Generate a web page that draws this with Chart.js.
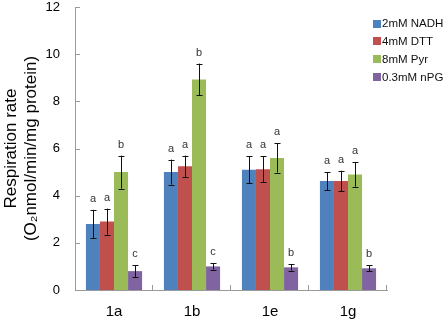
<!DOCTYPE html>
<html>
<head>
<meta charset="utf-8">
<script src="https://cdn.jsdelivr.net/npm/chart.js@4.4.1/dist/chart.umd.min.js"></script>
<style>
  body { margin: 0; background: #fff; }
  #wrap { width: 448px; height: 322px; }
</style>
</head>
<body>
<div id="wrap"><canvas id="chart" width="448" height="322"></canvas></div>
<script>
// Data
const categories = ["1a", "1b", "1e", "1g"];
const seriesNames = ["2mM NADH", "4mM DTT", "8mM Pyr", "0.3mM nPG"];

const nadh = [2.8, 5.0, 5.1, 4.62];
const dtt = [2.9, 5.25, 5.12, 4.62];
const pyr = [5.0, 8.93, 5.6, 4.9];
const npg = [0.8, 1.0, 0.96, 0.92];

const nadhErr = [0.6, 0.53, 0.57, 0.38];
const dttErr = [0.55, 0.45, 0.55, 0.44];
const pyrErr = [0.7, 0.67, 0.62, 0.52];
const npgErr = [0.25, 0.14, 0.14, 0.12];

const nadhSig = ["a", "a", "a", "a"];
const dttSig = ["a", "a", "a", "a"];
const pyrSig = ["b", "b", "a", "a"];
const npgSig = ["c", "c", "b", "b"];

const colors = ["#4F81BD", "#C0504D", "#9BBB59", "#8064A2"];
const axisColor = "#9a9a9a";

Chart.defaults.font.family = "'Liberation Sans', Arial, sans-serif";
Chart.defaults.color = "#000";

function makeSet(i, values, errs, sig) {
    return {
        label: seriesNames[i],
        data: values,
        errors: errs,
        sig: sig,
        backgroundColor: colors[i],
        borderWidth: 0,
        categoryPercentage: 0.72,
        barPercentage: 1.0
    };
}

// Error bars, significance letters, inside tick marks
const extrasPlugin = {
    id: "extras",
    afterDatasetsDraw(chart) {
        const ctx = chart.ctx;
        const y = chart.scales.y;
        const area = chart.chartArea;

        chart.data.datasets.forEach((ds, di) => {
            const meta = chart.getDatasetMeta(di);
            meta.data.forEach((bar, i) => {
                const v = ds.data[i];
                const e = ds.errors[i];
                const top = y.getPixelForValue(v + e);
                const bot = y.getPixelForValue(v - e);
                const cx = Math.round(bar.x) + 0.5;
                ctx.save();
                ctx.strokeStyle = "#111";
                ctx.lineWidth = 1;
                ctx.beginPath();
                ctx.moveTo(cx, top);
                ctx.lineTo(cx, bot);
                ctx.moveTo(cx - 3, Math.round(top) + 0.5);
                ctx.lineTo(cx + 3, Math.round(top) + 0.5);
                ctx.moveTo(cx - 3, Math.round(bot) + 0.5);
                ctx.lineTo(cx + 3, Math.round(bot) + 0.5);
                ctx.stroke();

                ctx.fillStyle = "#333";
                ctx.font = "11px 'Liberation Sans', Arial, sans-serif";
                ctx.textAlign = "center";
                ctx.textBaseline = "alphabetic";
                ctx.fillText(ds.sig[i], bar.x, top - 8);
                ctx.restore();
            });
        });

        // tick marks pointing into the plot
        ctx.save();
        ctx.strokeStyle = axisColor;
        ctx.lineWidth = 1;
        ctx.beginPath();
        y.ticks.forEach(t => {
            const py = Math.round(y.getPixelForValue(t.value)) + 0.5;
            ctx.moveTo(area.left, py);
            ctx.lineTo(area.left + 5, py);
        });
        const w = (area.right - area.left) / categories.length;
        for (let i = 1; i <= categories.length; i++) {
            const px = Math.round(area.left + i * w) - 0.5;
            ctx.moveTo(px, area.bottom);
            ctx.lineTo(px, area.bottom - 5);
        }
        ctx.stroke();
        ctx.restore();

        // legend
        ctx.save();
        ctx.font = "11.5px 'Liberation Sans', Arial, sans-serif";
        ctx.textBaseline = "middle";
        ctx.textAlign = "left";
        chart.data.datasets.forEach((ds, di) => {
            const ly = 23.5 + di * 17.8;
            ctx.fillStyle = ds.backgroundColor;
            ctx.fillRect(373, Math.round(ly) - 4, 8, 8);
            ctx.fillStyle = "#111";
            ctx.fillText(ds.label, 382, ly + 0.5);
        });
        ctx.restore();
    }
};

new Chart(document.getElementById("chart").getContext("2d"), {
    type: "bar",
    data: {
        labels: categories,
        datasets: [
            makeSet(0, nadh, nadhErr, nadhSig),
            makeSet(1, dtt, dttErr, dttSig),
            makeSet(2, pyr, pyrErr, pyrSig),
            makeSet(3, npg, npgErr, npgSig)
        ]
    },
    options: {
        responsive: false,
        animation: false,
        layout: { padding: { top: 7, right: 61, left: 0, bottom: 0 } },
        plugins: {
            legend: { display: false },
            tooltip: { enabled: false }
        },
        scales: {
            x: {
                grid: { display: false, drawTicks: false },
                border: { display: true, color: axisColor, width: 1 },
                ticks: { font: { size: 15 }, padding: 13, color: "#000" },
                afterFit(scale) {
                    scale.height = 32;
                    scale.paddingLeft = 0;
                    scale.paddingRight = 0;
                }
            },
            y: {
                min: 0,
                max: 12,
                grid: { display: false, drawTicks: false },
                border: { display: true, color: axisColor, width: 1 },
                ticks: { stepSize: 2, font: { size: 13 }, padding: 15, color: "#000" },
                title: {
                    display: true,
                    text: ["Respiration rate", "(O\u2082nmol/min/mg protein)"],
                    font: { size: 17, lineHeight: "20px" },
                    padding: { top: 1, bottom: 0 },
                    color: "#000"
                },
                afterFit(scale) {
                    scale.width = 75;
                    scale.paddingTop = 0;
                    scale.paddingBottom = 0;
                }
            }
        }
    },
    plugins: [extrasPlugin]
});
</script>
</body>
</html>
